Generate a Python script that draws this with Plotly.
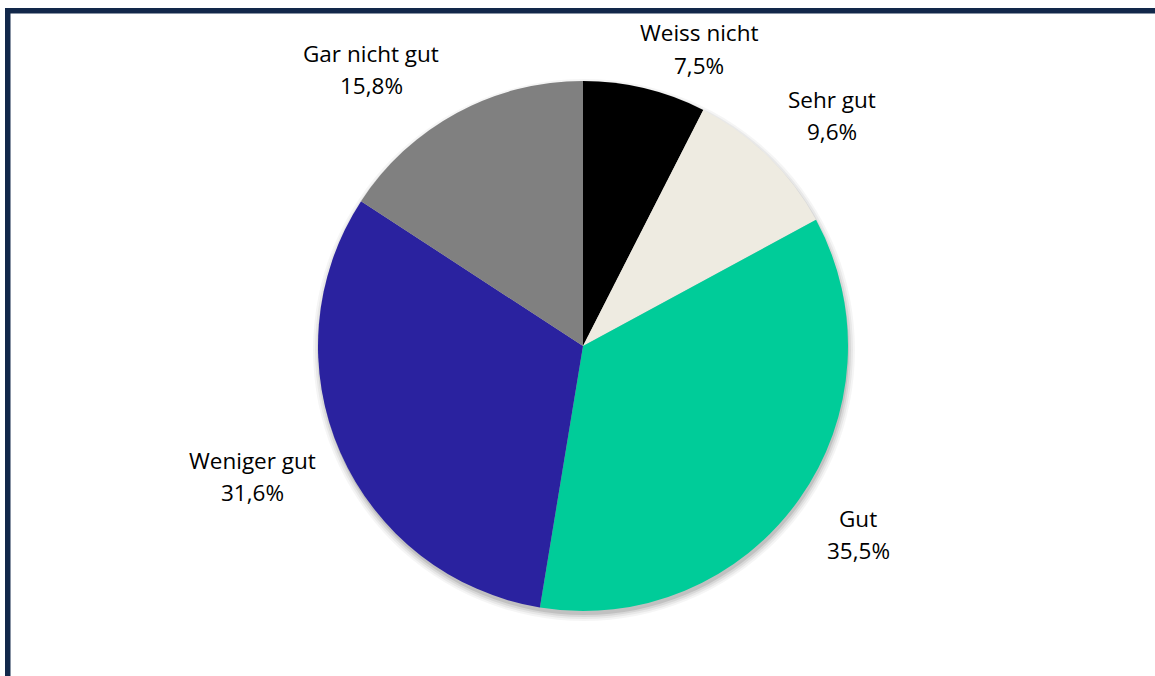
import plotly.graph_objects as go

# Survey answers, clockwise from 12 o'clock
labels = ["Weiss nicht", "Sehr gut", "Gut", "Weniger gut", "Gar nicht gut"]
values = [7.5, 9.6, 35.5, 31.6, 15.8]
colors = ["#000000", "#EEEBE1", "#00CC99", "#2A229F", "#808080"]

W, H = 1155, 676
cx, cy, r = 583, 346, 265  # pie centre and radius in pixels

# label anchor points (pixel centres of the first text line)
label_pos = {
    "Weiss nicht": (699, 33),
    "Sehr gut": (832, 99),
    "Gut": (858, 518),
    "Weniger gut": (252, 460),
    "Gar nicht gut": (371, 53),
}
line_gap = 32

fig = go.Figure()
fig.add_trace(go.Pie(
    labels=labels,
    values=values,
    marker=dict(colors=colors, line=dict(width=0)),
    sort=False,
    direction="clockwise",
    rotation=0,
    textinfo="none",
    hoverinfo="label+percent",
    showlegend=False,
    domain=dict(x=[(cx - r) / W, (cx + r) / W],
                y=[1 - (cy + r) / H, 1 - (cy - r) / H]),
))

shapes = []
# soft drop shadow under the pie
for grow, alpha in [(6, 0.04), (4, 0.05), (2, 0.07), (0, 0.10)]:
    shapes.append(dict(
        type="circle", layer="below",
        xref="paper", yref="paper",
        xsizemode="pixel", ysizemode="pixel",
        xanchor=cx / W, yanchor=1 - cy / H,
        x0=-r - grow + 1, x1=r + grow + 1,
        y0=-r - grow - 4, y1=r + grow - 4,
        fillcolor=f"rgba(0,0,0,{alpha})", line=dict(width=0),
    ))
# frame: top and left edges
shapes.append(dict(type="rect", xref="paper", yref="paper",
                   x0=5 / W, x1=1, y0=1 - 13.5 / H, y1=1 - 8 / H,
                   fillcolor="#12284A", line=dict(width=0)))
shapes.append(dict(type="rect", xref="paper", yref="paper",
                   x0=5 / W, x1=10.5 / W, y0=0, y1=1 - 8 / H,
                   fillcolor="#12284A", line=dict(width=0)))

annotations = []
for lab, val in zip(labels, values):
    px, py = label_pos[lab]
    pct = f"{val:.1f}".replace(".", ",") + "%"
    for k, txt in enumerate([lab, pct]):
        annotations.append(dict(
            text=txt, showarrow=False,
            xref="paper", yref="paper",
            x=px / W, y=1 - (py + k * line_gap) / H,
            xanchor="center", yanchor="middle",
            font=dict(family="Open Sans, sans-serif", size=22.5, color="#000000"),
        ))

fig.update_layout(
    width=W, height=H,
    margin=dict(l=0, r=0, t=0, b=0),
    paper_bgcolor="#FFFFFF",
    plot_bgcolor="#FFFFFF",
    shapes=shapes,
    annotations=annotations,
)

fig.write_html("out.html")
